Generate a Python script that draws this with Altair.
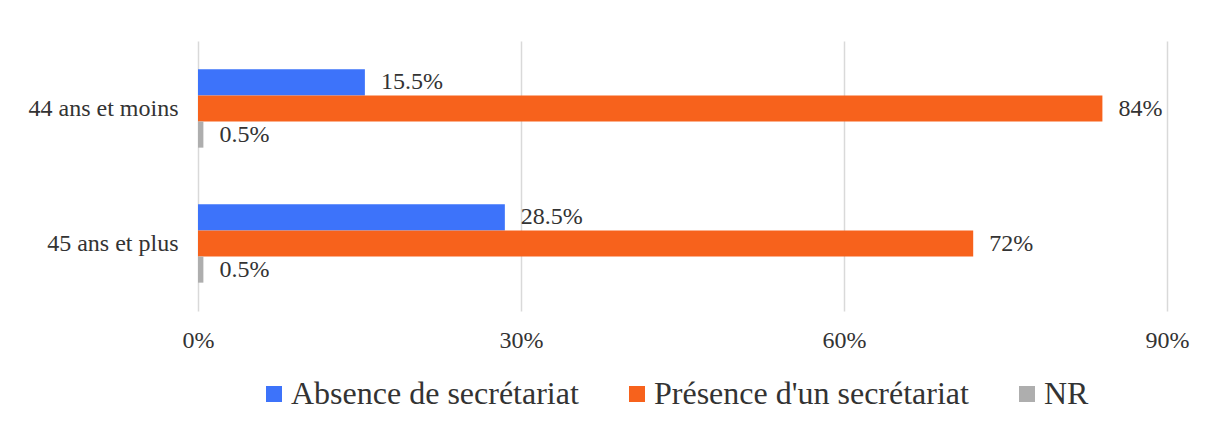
import altair as alt
import pandas as pd

categories = ["44 ans et moins", "45 ans et plus"]
series = ["Absence de secrétariat", "Présence d'un secrétariat", "NR"]
values_44 = [0.155, 0.84, 0.005]
values_45 = [0.285, 0.72, 0.005]
colors = ["#3D73FA", "#F7621C", "#AEAEAE"]
x_ticks = [0, 0.3, 0.6, 0.9]

rows = []
for cat, vals in zip(categories, [values_44, values_45]):
    for s, v in zip(series, vals):
        rows.append({"cat": cat, "serie": s, "val": v})
df = pd.DataFrame(rows)

FONT = "Liberation Serif, Times New Roman, DejaVu Serif, serif"
TXT = "#333333"

base = alt.Chart(df).encode(
    y=alt.Y("cat:N", sort=categories,
            scale=alt.Scale(paddingInner=0.42, paddingOuter=0.21),
            axis=alt.Axis(title=None, labelFontSize=24, labelPadding=20,
                          ticks=False, tickSize=0, domain=False, grid=False,
                          labelColor=TXT, labelFont=FONT)),
    yOffset=alt.YOffset("serie:N", sort=series,
                        scale=alt.Scale(paddingInner=0, paddingOuter=0)),
    x=alt.X("val:Q", scale=alt.Scale(domain=[0, 0.9], nice=False),
            axis=alt.Axis(title=None, values=x_ticks, format="%",
                          labelFontSize=24, labelPadding=17, ticks=False,
                          tickSize=0, domain=False, grid=True,
                          labelFlush=False,
                          gridColor="#D9D9D9", gridWidth=1.5,
                          labelColor=TXT, labelFont=FONT)),
)

bars = base.mark_bar().encode(
    color=alt.Color("serie:N", sort=series,
                    scale=alt.Scale(domain=series, range=colors),
                    legend=alt.Legend(title=None, orient="none", legendX=60,
                                      legendY=337, direction="horizontal",
                                      columns=3, symbolType="square",
                                      symbolSize=256, symbolStrokeWidth=0,
                                      labelFontSize=32, labelFont=FONT,
                                      labelColor=TXT, labelOffset=1,
                                      columnPadding=42, labelLimit=600))
)

labels = base.mark_text(align="left", baseline="middle", dx=16,
                        fontSize=24, font=FONT, color=TXT).encode(
    text=alt.Text("val:Q", format=".1~%")
)

chart = alt.layer(bars, labels).properties(
    width=969, height=270,
    autosize=alt.AutoSizeParams(type="none"),
    padding={"left": 190, "top": 33, "right": 30, "bottom": 100},
).configure(font=FONT).configure_view(stroke=None)

chart.save("out.html", embed_options={"renderer": "svg", "actions": False})
